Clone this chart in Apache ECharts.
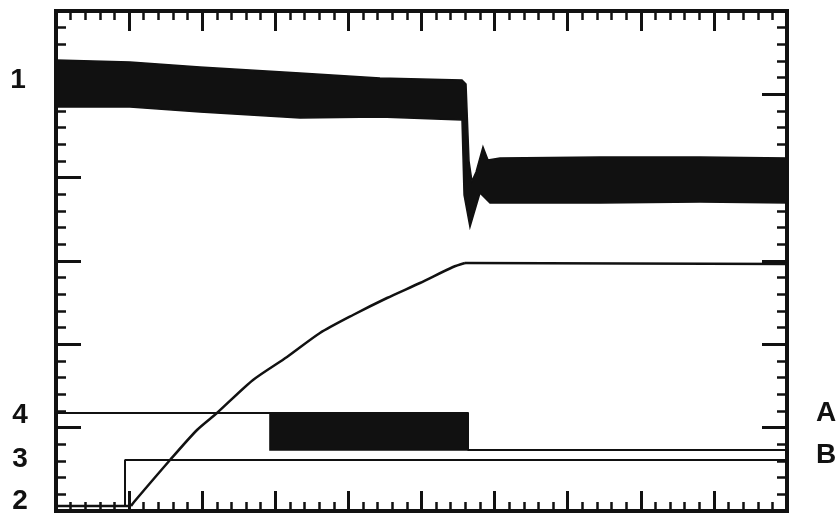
<!DOCTYPE html>
<html><head><meta charset="utf-8">
<script src="https://cdn.jsdelivr.net/npm/echarts@6/dist/echarts.min.js"></script>
<style>html,body{margin:0;padding:0;background:#fff}#c{width:836px;height:520px}</style>
</head><body><div id="c"></div>
<script>
// Values in screen divisions (x: 0..10, y: 0..6)
const band1X = [0, 1.012, 1.970, 3.338, 4.432, 5.554, 5.609, 5.650, 5.690, 5.746, 5.841, 5.910, 6.074, 7.442, 8.810, 10,
                10, 8.810, 7.442, 5.937, 5.800, 5.663, 5.582, 5.554, 4.432, 3.338, 1.970, 1.012, 0];
const band1Y = [5.412, 5.388, 5.328, 5.256, 5.196, 5.172, 5.124, 4.200, 3.960, 4.068, 4.368, 4.212, 4.236, 4.248, 4.248, 4.236,
                3.696, 3.708, 3.696, 3.696, 3.816, 3.408, 3.792, 4.692, 4.728, 4.716, 4.788, 4.848, 4.848];
const boxAX = [2.927, 5.636, 5.636, 2.927];
const boxAY = [1.176, 1.176, 0.732, 0.732];
const trace2Start = [[0, 0.060], [1.026, 0.060]];
const trace2X = [1.026, 1.067, 1.560, 1.929, 2.202, 2.695, 3.160, 3.611, 4.063, 4.528, 4.979, 5.431, 5.595];
const trace2Y = [0.060, 0.108, 0.612, 0.972, 1.176, 1.572, 1.848, 2.136, 2.352, 2.556, 2.736, 2.928, 2.976];
const trace2End = [[5.595, 2.976], [10, 2.964]];
const trace3X = [0, 0.944, 0.944, 10];
const trace3Y = [0.060, 0.060, 0.612, 0.612];
const traceAX = [0, 5.636, 5.636, 10];
const traceAY = [1.176, 1.176, 0.732, 0.732];
const leftLabels = ['1', '4', '3', '2'];
const rightLabels = ['A', 'B'];
const xDivisions = 10;
const yDivisions = 6;

const INK = '#111';
function zip(xs, ys) { return xs.map((x, i) => [x, ys[i]]); }
function polySeries(xs, ys) {
  return {
    type: 'custom', coordinateSystem: 'cartesian2d', xAxisIndex: 0, yAxisIndex: 0,
    data: [[xs[0], ys[0]]], clip: false, silent: true, z: 3,
    renderItem: (params, api) => ({
      type: 'polygon',
      shape: { points: xs.map((x, i) => api.coord([x, ys[i]])) },
      style: { fill: INK, stroke: INK, lineWidth: 1.5 }
    })
  };
}
function lineSeries(data, w, smooth) {
  return {
    type: 'line', xAxisIndex: 0, yAxisIndex: 0, data: data, showSymbol: false, symbol: 'none',
    silent: true, z: 4, lineStyle: { color: INK, width: w }, clip: false,
    smooth: smooth || false
  };
}
function makeAxis(max, pos, major, minor) {
  return {
    type: 'value', min: 0, max: max, interval: 1, position: pos,
    axisLine: { show: true, onZero: false, lineStyle: { color: INK, width: 4 } },
    axisLabel: { show: false }, splitLine: { show: false },
    axisTick: { show: true, inside: true, length: major, lineStyle: { color: INK, width: 3 } },
    minorTick: { show: true, splitNumber: 5, length: minor, lineStyle: { color: INK, width: 2.5 } },
    minorSplitLine: { show: false }
  };
}
const labelFont = 'bold 28px "Liberation Sans", Arial, sans-serif';
function lbl(t, x, y) {
  return { type: 'text', x: x, y: y, silent: true,
    style: { text: t, fill: INK, font: labelFont, align: 'center', verticalAlign: 'middle' } };
}

const chart = echarts.init(document.getElementById('c'), null, { renderer: 'canvas' });
chart.setOption({
  animation: false,
  backgroundColor: '#fff',
  grid: { left: 56, right: 49, top: 11, bottom: 9, containLabel: false, show: true,
          borderColor: INK, borderWidth: 4, backgroundColor: 'transparent' },
  xAxis: [makeAxis(xDivisions, 'bottom', 20, 9), makeAxis(xDivisions, 'top', 20, 9)],
  yAxis: [makeAxis(yDivisions, 'left', 25, 10), makeAxis(yDivisions, 'right', 25, 10)],
  graphic: [
    lbl(leftLabels[0], 18, 80),
    lbl(leftLabels[1], 20, 415),
    lbl(leftLabels[2], 20, 459),
    lbl(leftLabels[3], 20, 501),
    lbl(rightLabels[0], 826, 413),
    lbl(rightLabels[1], 826, 455)
  ],
  series: [
    polySeries(band1X, band1Y),
    polySeries(boxAX, boxAY),
    lineSeries(trace2Start, 2.5),
    lineSeries(zip(trace2X, trace2Y), 2.5, 0.25),
    lineSeries(trace2End, 2.5),
    lineSeries(zip(trace3X, trace3Y), 2),
    lineSeries(zip(traceAX, traceAY), 2)
  ]
});
</script>
</body></html>
